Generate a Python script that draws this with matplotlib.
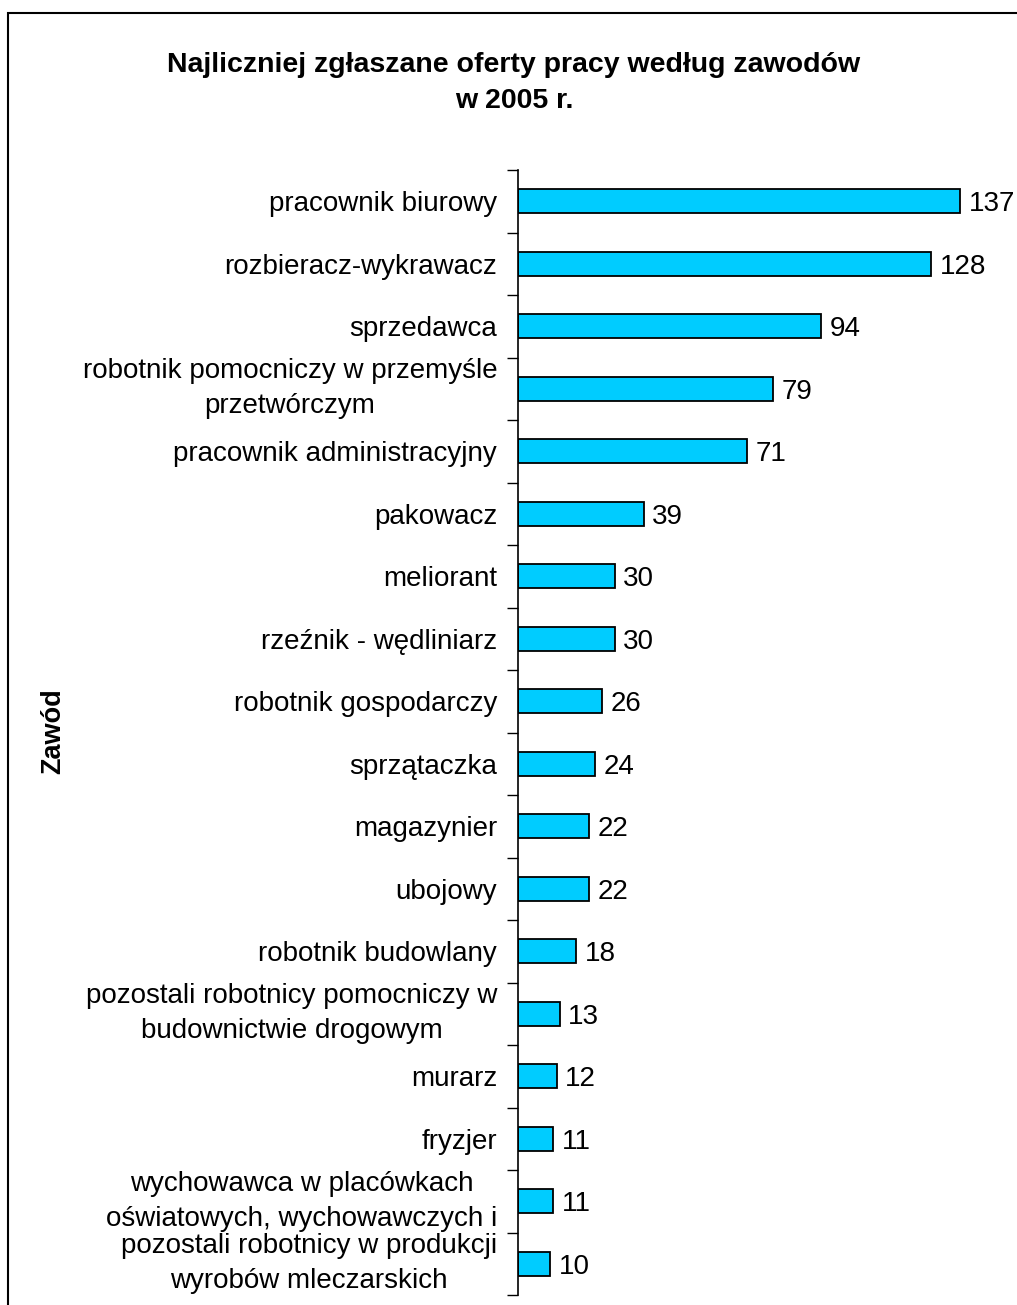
import matplotlib
matplotlib.use("Agg")
import matplotlib.pyplot as plt
from matplotlib.patches import Rectangle
import numpy as np

plt.rcParams['font.family'] = ['Liberation Sans', 'DejaVu Sans']

categories = [
    "pracownik biurowy",
    "rozbieracz-wykrawacz",
    "sprzedawca",
    "robotnik pomocniczy w przemyśle\nprzetwórczym",
    "pracownik administracyjny",
    "pakowacz",
    "meliorant",
    "rzeźnik - wędliniarz",
    "robotnik gospodarczy",
    "sprzątaczka",
    "magazynier",
    "ubojowy",
    "robotnik budowlany",
    "pozostali robotnicy pomocniczy w\nbudownictwie drogowym",
    "murarz",
    "fryzjer",
    "wychowawca w placówkach\noświatowych, wychowawczych i",
    "pozostali robotnicy w produkcji\nwyrobów mleczarskich",
]
values = [137, 128, 94, 79, 71, 39, 30, 30, 26, 24, 22, 22, 18, 13, 12, 11, 11, 10]
title = "Najliczniej zgłaszane oferty pracy według zawodów\nw 2005 r."
ylabel = "Zawód"

W, H = 1017, 1305
fig = plt.figure(figsize=(W / 100, H / 100), dpi=100)

# border
fig.patches.append(Rectangle((8 / W, -0.01), 1.2, 1 - 13 / H + 0.01, transform=fig.transFigure,
                             fill=False, edgecolor='black', linewidth=1.5))

left_px, right_px, top_px, bot_px = 518, 1002, 170, 1295
ax = fig.add_axes([left_px / W, 1 - bot_px / H, (right_px - left_px) / W, (bot_px - top_px) / H])

n = len(categories)
y = np.arange(n)
ax.barh(y, values, height=0.385, color='#00CCFF', edgecolor='black', linewidth=1.3)
ax.set_ylim(n - 0.5, -0.5)
ax.set_xlim(0, 150)

for yi, v in zip(y, values):
    ax.text(v + 2.6, yi, str(v), va='center_baseline', ha='left', fontsize=20)

ax.set_yticks(y)
ax.set_yticklabels(categories, fontsize=20, ha='right', linespacing=1.45)
for lab in ax.get_yticklabels():
    lab.set_multialignment('center')
    if "\n" in lab.get_text():
        lab.set_va('center')
ax.set_yticks(np.arange(n + 1) - 0.5, minor=True)
ax.tick_params(axis='y', which='major', length=0, pad=15)
ax.tick_params(axis='y', which='minor', length=8, width=1, direction='out')

ax.set_xticks([])
for s in ['top', 'right', 'bottom']:
    ax.spines[s].set_visible(False)
ax.spines['left'].set_linewidth(1.2)

fig.text(514 / W, 1 - 83 / H, title, ha='center', va='center', fontsize=20.5,
         fontweight='bold', linespacing=1.45)
fig.text(53 / W, 1 - 731 / H, ylabel, rotation=90, ha='center', va='center', fontsize=19.5,
         fontweight='bold')

fig.savefig("out.png", dpi=100)
